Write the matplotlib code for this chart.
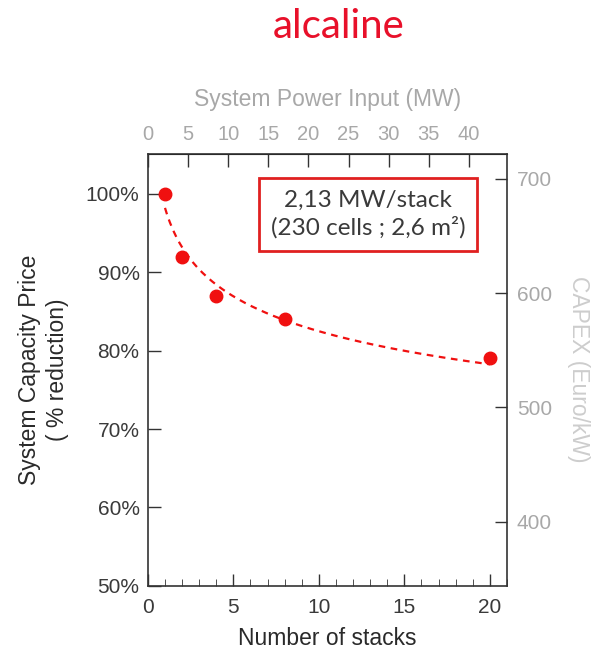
import numpy as np
import matplotlib.pyplot as plt
from matplotlib.ticker import MultipleLocator, FuncFormatter

plt.rcParams["font.family"] = ["Liberation Sans", "DejaVu Sans"]

# data
stacks = [1, 2, 4, 8, 20]
price_pct = [100, 92, 87, 84, 79]
mw_per_stack = 2.13
capex_ticks = [400, 500, 600, 700]

dark = "#333333"
grey = "#a8a8a8"
red = "#f01010"

fig = plt.figure(figsize=(5.94, 6.59), dpi=100)
ax = fig.add_axes([0.249, 0.111, 0.6045, 0.6555])

# power-law trend line fitted to the points
b, loga = np.polyfit(np.log(stacks), np.log(price_pct), 1)
xs = np.linspace(1, 20, 200)
ax.plot(xs, np.exp(loga) * xs ** b, color=red, ls=(0, (3, 2.5)), lw=1.6)
ax.plot(stacks, price_pct, "o", color=red, ms=9, mec=red)

ax.set_xlim(0, 21)
ax.set_ylim(50, 105.1)
ax.xaxis.set_major_locator(MultipleLocator(5))
ax.xaxis.set_minor_locator(MultipleLocator(1))
ax.yaxis.set_major_locator(MultipleLocator(10))
ax.yaxis.set_major_formatter(FuncFormatter(lambda v, p: f"{v:.0f}%"))
ax.tick_params(axis="both", direction="in", length=9, width=1, colors=dark,
               labelsize=15, labelcolor="#3a3a3a")
ax.tick_params(axis="x", which="minor", direction="in", length=5, color=dark)
ax.tick_params(axis="x", pad=9)
ax.tick_params(axis="y", pad=6)
for s in ax.spines.values():
    s.set_color(dark)
    s.set_linewidth(1.2)

ax.set_xlabel("Number of stacks", fontsize=16.5, color="#2a2a2a", labelpad=7)
ax.set_ylabel("System Capacity Price\n( % reduction)", fontsize=16.5,
              color="#2a2a2a", labelpad=12, linespacing=1.3)

# top axis: system power input
top = ax.secondary_xaxis("top", functions=(lambda x: x * mw_per_stack,
                                           lambda x: x / mw_per_stack))
top.xaxis.set_major_locator(MultipleLocator(5))
top.tick_params(direction="in", length=9, width=1, colors=dark,
                labelsize=14.5, labelcolor=grey, pad=7)
top.set_xlabel("System Power Input (MW)", fontsize=16.5, color=grey, labelpad=14)

# right axis: CAPEX
right = ax.twinx()
right.set_ylim(343.7, 722)
right.set_yticks(capex_ticks)
right.tick_params(direction="in", length=9, width=1, colors=dark,
                  labelsize=15, labelcolor=grey, pad=7)
for s in right.spines.values():
    s.set_visible(False)
fig.text(0.974, 0.44, "CAPEX (Euro/kW)", rotation=270, fontsize=16.5,
         color="#cdcdcd", ha="center", va="center")

# annotation box
ax.text(0.613, 0.86, "2,13 MW/stack\n(230 cells ; 2,6 m²)",
        transform=ax.transAxes, ha="center", va="center", fontsize=17.5,
        family=["Lato", "DejaVu Sans"], color="#3a3a3a", linespacing=1.3,
        bbox=dict(boxstyle="square,pad=0.5", fc="white", ec="#e02020", lw=2))

fig.text(0.57, 0.96, "alcaline", ha="center", va="center", fontsize=29,
         family=["Lato", "DejaVu Sans"], color="#e8102a")

fig.savefig("out.png", dpi=100)
